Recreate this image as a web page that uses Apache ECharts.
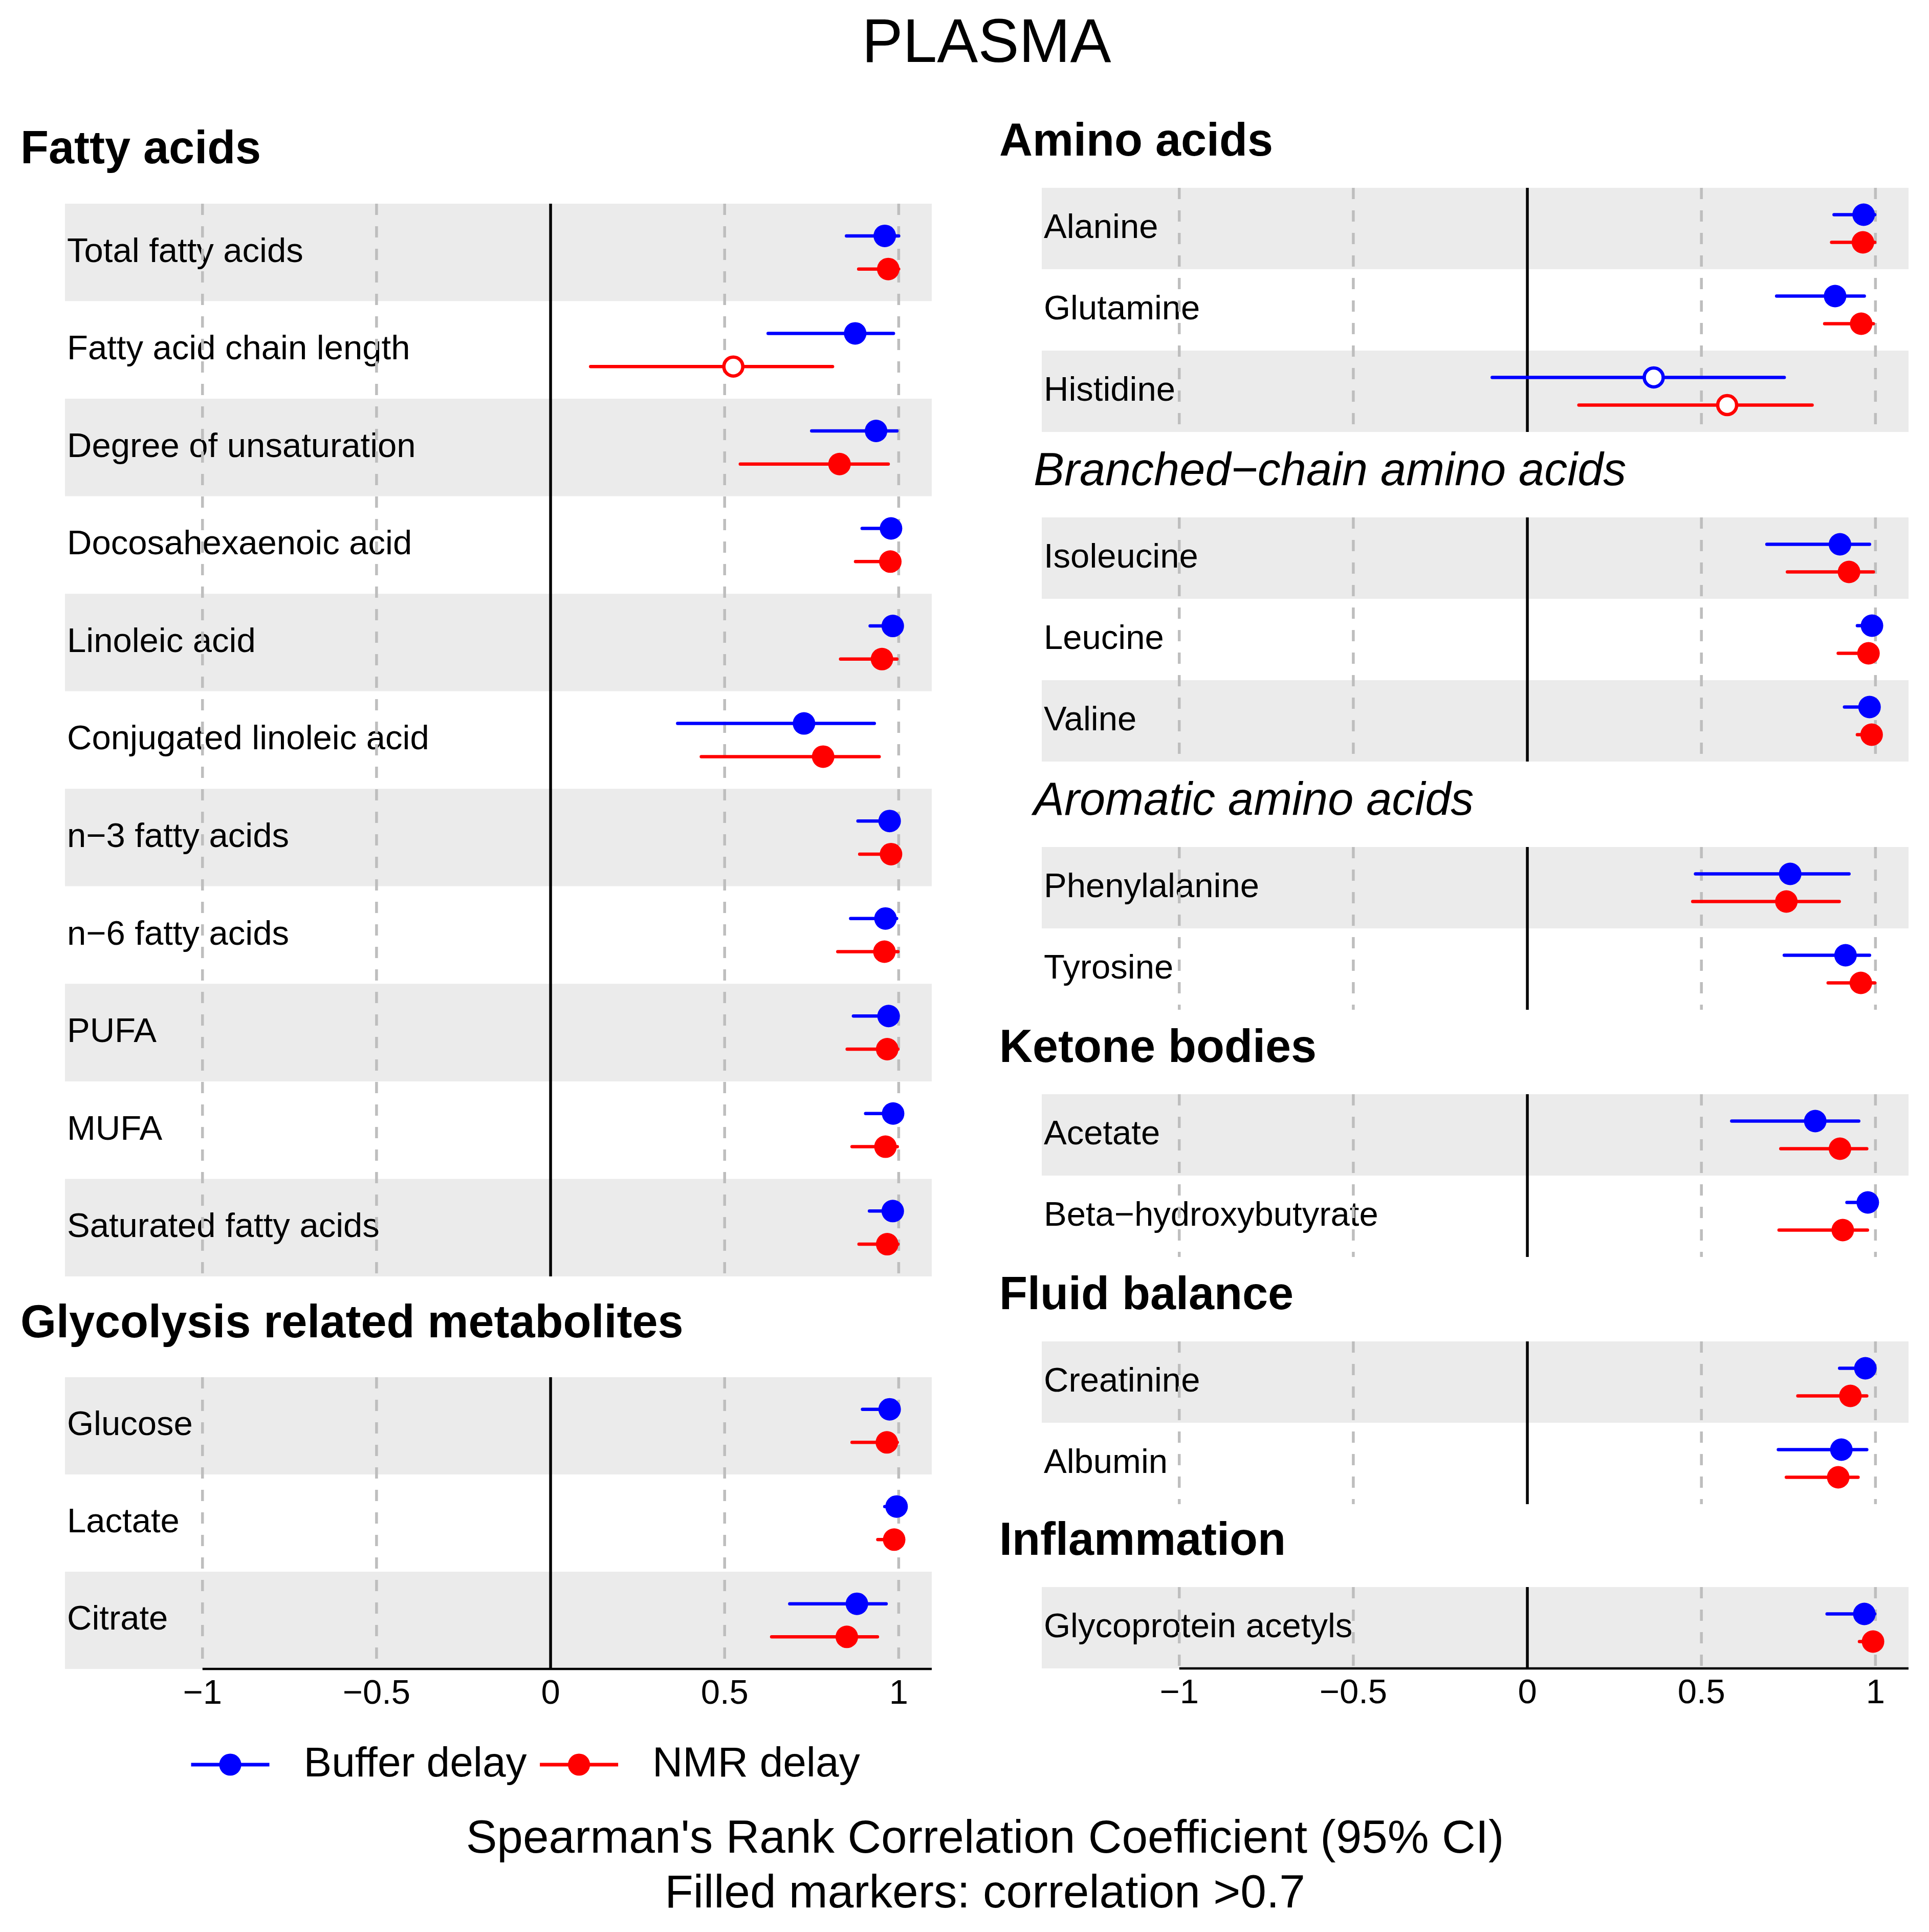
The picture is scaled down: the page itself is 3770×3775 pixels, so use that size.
<!DOCTYPE html>
<html>
<head>
<meta charset="utf-8">
<script src="https://cdn.jsdelivr.net/npm/echarts@6/dist/echarts.min.js"></script>
<style>
html, body { margin: 0; padding: 0; background: #fff; }
#chart { width: 3770px; height: 3775px; }
</style>
</head>
<body>
<div id="chart"></div>
<script>
// each row: [rho, lower 95% CI, upper 95% CI]
var fattyLabels = ['Total fatty acids', 'Fatty acid chain length', 'Degree of unsaturation', 'Docosahexaenoic acid',
	'Linoleic acid', 'Conjugated linoleic acid', 'n\u22123 fatty acids', 'n\u22126 fatty acids', 'PUFA', 'MUFA', 'Saturated fatty acids'];
var fattyBuffer = [[0.96, 0.85, 1.0], [0.875, 0.625, 0.985], [0.935, 0.75, 0.995], [0.978, 0.895, 0.998], [0.983, 0.918, 0.998],
	[0.728, 0.365, 0.93], [0.974, 0.883, 0.998], [0.962, 0.862, 0.994], [0.971, 0.87, 0.998], [0.984, 0.905, 0.998], [0.983, 0.916, 0.998]];
var fattyNmr = [[0.97, 0.885, 1.0], [0.525, 0.115, 0.81], [0.83, 0.545, 0.97], [0.976, 0.876, 0.998], [0.952, 0.833, 0.995],
	[0.783, 0.433, 0.944], [0.978, 0.888, 0.998], [0.959, 0.825, 0.998], [0.967, 0.852, 0.998], [0.962, 0.866, 0.996], [0.967, 0.886, 0.998]];

var glycoLabels = ['Glucose', 'Lactate', 'Citrate'];
var glycoBuffer = [[0.974, 0.896, 0.998], [0.994, 0.96, 0.999], [0.88, 0.687, 0.964]];
var glycoNmr = [[0.966, 0.866, 0.996], [0.987, 0.94, 0.999], [0.851, 0.635, 0.939]];

var aminoLabels = ['Alanine', 'Glutamine', 'Histidine'];
var aminoBuffer = [[0.966, 0.881, 0.998], [0.884, 0.716, 0.968], [0.363, -0.101, 0.738]];
var aminoNmr = [[0.964, 0.874, 0.998], [0.959, 0.854, 0.994], [0.574, 0.148, 0.818]];

var bcaaLabels = ['Isoleucine', 'Leucine', 'Valine'];
var bcaaBuffer = [[0.898, 0.688, 0.983], [0.99, 0.948, 0.999], [0.983, 0.911, 0.999]];
var bcaaNmr = [[0.924, 0.747, 0.994], [0.98, 0.893, 0.999], [0.989, 0.948, 0.999]];

var aromaticLabels = ['Phenylalanine', 'Tyrosine'];
var aromaticBuffer = [[0.755, 0.483, 0.924], [0.914, 0.738, 0.983]];
var aromaticNmr = [[0.744, 0.475, 0.896], [0.958, 0.864, 0.998]];

var ketoneLabels = ['Acetate', 'Beta\u2212hydroxybutyrate'];
var ketoneBuffer = [[0.827, 0.587, 0.952], [0.978, 0.918, 0.999]];
var ketoneNmr = [[0.898, 0.728, 0.975], [0.906, 0.723, 0.977]];

var fluidLabels = ['Creatinine', 'Albumin'];
var fluidBuffer = [[0.971, 0.897, 0.998], [0.902, 0.721, 0.975]];
var fluidNmr = [[0.928, 0.777, 0.975], [0.893, 0.744, 0.95]];

var inflamLabels = ['Glycoprotein acetyls'];
var inflamBuffer = [[0.968, 0.861, 0.998]];
var inflamNmr = [[0.993, 0.954, 0.999]];

var tickValues = [-1, -0.5, 0, 0.5, 1];
var filledCut = 0.7;

var FONT = '"Liberation Sans", Arial, Helvetica, sans-serif';
var BLUE = '#0000ff', RED = '#ff0000';
var X_MIN = -1.395, X_MAX = 1.095;

// one grid per block; positions in px
var panels = [
	{ labels: fattyLabels, buffer: fattyBuffer, nmr: fattyNmr, left: 127, top: 398, height: 2096 },
	{ labels: glycoLabels, buffer: glycoBuffer, nmr: glycoNmr, left: 127, top: 2691, height: 570, bottom: true },
	{ labels: aminoLabels, buffer: aminoBuffer, nmr: aminoNmr, left: 2036, top: 367, height: 477 },
	{ labels: bcaaLabels, buffer: bcaaBuffer, nmr: bcaaNmr, left: 2036, top: 1011, height: 477 },
	{ labels: aromaticLabels, buffer: aromaticBuffer, nmr: aromaticNmr, left: 2036, top: 1655, height: 318 },
	{ labels: ketoneLabels, buffer: ketoneBuffer, nmr: ketoneNmr, left: 2036, top: 2138, height: 318 },
	{ labels: fluidLabels, buffer: fluidBuffer, nmr: fluidNmr, left: 2036, top: 2621, height: 318 },
	{ labels: inflamLabels, buffer: inflamBuffer, nmr: inflamNmr, left: 2036, top: 3101, height: 159, bottom: true }
];

var headers = [
	{ text: 'Fatty acids', x: 40, y: 294, bold: true },
	{ text: 'Glycolysis related metabolites', x: 40, y: 2588, bold: true },
	{ text: 'Amino acids', x: 1953, y: 279, bold: true },
	{ text: 'Branched\u2212chain amino acids', x: 2020, y: 923, italic: true },
	{ text: 'Aromatic amino acids', x: 2020, y: 1567, italic: true },
	{ text: 'Ketone bodies', x: 1953, y: 2050, bold: true },
	{ text: 'Fluid balance', x: 1953, y: 2533, bold: true },
	{ text: 'Inflammation', x: 1953, y: 3013, bold: true }
];

function fmtTick(v) {
	return v < 0 ? '\u2212' + Math.abs(v) : String(v);
}

function refLineItem(params, api) {
	var v = api.value(0);
	var x = api.coord([v, 0])[0];
	var cs = params.coordSys;
	return {
		type: 'line',
		shape: { x1: x, y1: cs.y, x2: x, y2: cs.y + cs.height },
		style: v === 0 ? { stroke: '#000', lineWidth: 5.5 } : { stroke: '#bebebe', lineWidth: 5.5, lineDash: [22, 22] }
	};
}

function baselineItem(params, api) {
	var cs = params.coordSys;
	var x1 = api.coord([api.value(0), 0])[0];
	var x2 = api.coord([api.value(1), 0])[0];
	var y = cs.y + cs.height;
	return { type: 'line', shape: { x1: x1, y1: y, x2: x2, y2: y }, style: { stroke: '#000', lineWidth: 4.5 } };
}

function ciSeries(name, rows, color, shift, idx) {
	return {
		type: 'custom',
		name: name,
		xAxisIndex: idx,
		yAxisIndex: idx,
		z: 3,
		encode: { x: 0, y: 1 },
		itemStyle: { color: color },
		data: rows.map(function(d, k) { return [d[0], k, d[1], d[2]]; }),
		renderItem: function(params, api) {
			var k = api.value(1);
			var p = api.coord([api.value(0), k]);
			var band = api.size([0, 1])[1];
			var y = p[1] + shift * band;
			var lo = api.coord([api.value(2), k])[0];
			var hi = api.coord([api.value(3), k])[0];
			var filled = api.value(0) > filledCut;
			return {
				type: 'group',
				children: [{
					type: 'line',
					shape: { x1: lo, y1: y, x2: hi, y2: y },
					style: { stroke: color, lineWidth: 6.5, lineCap: 'round' }
				}, {
					type: 'circle',
					shape: { cx: p[0], cy: y, r: filled ? 22 : 18.5 },
					style: filled ? { fill: color } : { fill: '#fff', stroke: color, lineWidth: 6.5 }
				}]
			};
		}
	};
}

var grids = [], xAxes = [], yAxes = [];
var series = [
	{ type: 'line', name: 'Buffer delay', data: [], xAxisIndex: 0, yAxisIndex: 0, symbol: 'circle', symbolSize: 44,
		itemStyle: { color: BLUE }, lineStyle: { color: BLUE, width: 7 } },
	{ type: 'line', name: 'NMR delay', data: [], xAxisIndex: 0, yAxisIndex: 0, symbol: 'circle', symbolSize: 44,
		itemStyle: { color: RED }, lineStyle: { color: RED, width: 7 } }
];

panels.forEach(function(p, i) {
	grids.push({ left: p.left, top: p.top, width: 1694, height: p.height, containLabel: false });
	xAxes.push({
		type: 'value',
		gridIndex: i,
		min: X_MIN,
		max: X_MAX,
		axisLine: { show: false },
		axisTick: { show: false },
		splitLine: { show: false },
		axisLabel: p.bottom ? {
			show: true,
			customValues: tickValues,
			formatter: fmtTick,
			fontSize: 67,
			fontFamily: FONT,
			color: '#000',
			margin: 16
		} : { show: false }
	});
	yAxes.push({
		type: 'category',
		gridIndex: i,
		data: p.labels,
		inverse: true,
		axisLine: { show: false },
		axisTick: { show: false },
		splitLine: { show: false },
		axisLabel: { inside: true, margin: 4, interval: 0, fontSize: 67, fontFamily: FONT, color: '#000' },
		splitArea: { show: true, interval: 0, areaStyle: { color: ['#ebebeb', '#ffffff'] } }
	});
	series.push({
		type: 'custom',
		xAxisIndex: i,
		yAxisIndex: i,
		silent: true,
		z: 1,
		encode: { x: 0, y: 1 },
		data: tickValues.map(function(v) { return [v, 0]; }),
		renderItem: refLineItem
	});
	if (p.bottom) {
		series.push({
			type: 'custom',
			xAxisIndex: i,
			yAxisIndex: i,
			silent: true,
			z: 1,
			encode: { x: [0, 1], y: 2 },
			data: [[-1, X_MAX, 0]],
			renderItem: baselineItem
		});
	}
	series.push(ciSeries('Buffer delay', p.buffer, BLUE, -0.17, i));
	series.push(ciSeries('NMR delay', p.nmr, RED, 0.17, i));
});

function textEl(text, x, y, size, opts) {
	opts = opts || {};
	return {
		type: 'text',
		x: x,
		y: y,
		silent: true,
		style: {
			text: text,
			fontSize: size,
			fontFamily: FONT,
			fontWeight: opts.bold ? 'bold' : 'normal',
			fontStyle: opts.italic ? 'italic' : 'normal',
			fill: '#000',
			align: opts.align || 'left',
			verticalAlign: 'middle',
			textAlign: opts.align || 'left',
			textVerticalAlign: 'middle'
		}
	};
}

var texts = [
	textEl('PLASMA', 1928, 88, 120, { align: 'center' }),
	textEl('Spearman\'s Rank Correlation Coefficient (95% CI)', 1925, 3595, 91, { align: 'center' }),
	textEl('Filled markers: correlation >0.7', 1925, 3702, 91, { align: 'center' })
];
headers.forEach(function(h) {
	texts.push(textEl(h.text, h.x, h.y, 90, h));
});

var chart = echarts.init(document.getElementById('chart'));
chart.setOption({
	animation: false,
	backgroundColor: '#ffffff',
	grid: grids,
	xAxis: xAxes,
	yAxis: yAxes,
	legend: {
		data: ['Buffer delay', 'NMR delay'],
		left: 365,
		top: 3402,
		itemWidth: 153,
		itemHeight: 54,
		itemGap: 22,
		selectedMode: false,
		lineStyle: { width: 7 },
		textStyle: { fontSize: 82, fontFamily: FONT, color: '#000', padding: [0, 0, 0, 62] }
	},
	graphic: { elements: texts },
	series: series
});
</script>
</body>
</html>
